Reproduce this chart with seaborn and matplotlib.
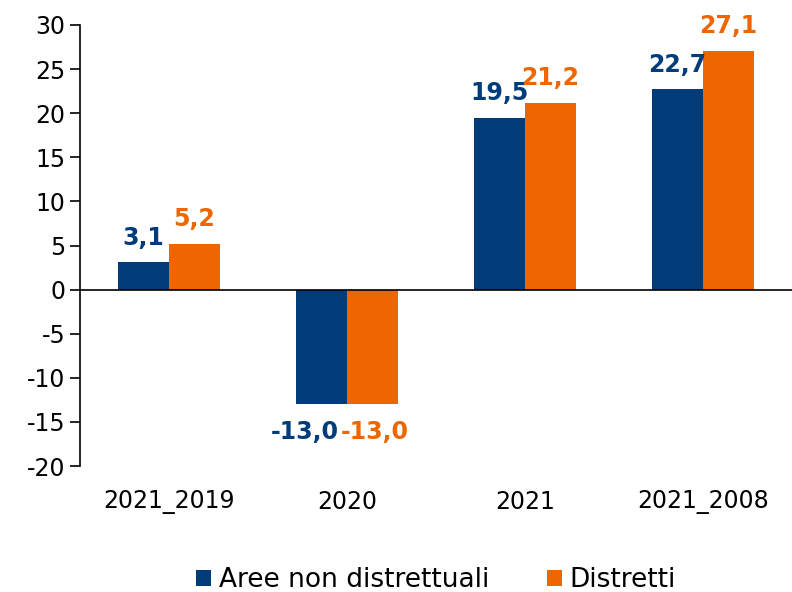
import matplotlib
matplotlib.use("Agg")
import matplotlib.pyplot as plt
import seaborn as sns
import pandas as pd

# chart data
periods = ["2021_2019", "2020", "2021", "2021_2008"]
aree_non_distr = [3.1, -13.0, 19.5, 22.7]
distretti = [5.2, -13.0, 21.2, 27.1]
series_names = ["Aree non distrettuali", "Distretti"]
colors = ["#003b7a", "#ee6600"]

df = pd.DataFrame({
    "periodo": periods * 2,
    "valore": aree_non_distr + distretti,
    "serie": [series_names[0]] * 4 + [series_names[1]] * 4,
})

sns.set_style("white")
plt.rcParams["font.family"] = ["DejaVu Sans"]
plt.rcParams["axes.unicode_minus"] = False
plt.rcParams["text.color"] = "black"

fig = plt.figure(figsize=(7.92, 5.92), dpi=100)
ax = fig.add_axes([80 / 792, 1 - 466 / 592, 712 / 792, 441 / 592])

sns.barplot(data=df, x="periodo", y="valore", hue="serie", palette=colors,
            width=0.57, saturation=1, linewidth=0, ax=ax)

ax.set_ylim(-20, 30)
ax.set_xlim(-0.5, 3.5)
ax.set_yticks(range(-20, 31, 5))
ax.set_xlabel("")
ax.set_ylabel("")

for s in ["top", "right", "bottom"]:
    ax.spines[s].set_visible(False)
ax.spines["left"].set_color("black")
ax.spines["left"].set_linewidth(1.2)
ax.axhline(0, color="black", lw=1.2)

ax.tick_params(axis="y", left=True, length=7, width=1.2, labelsize=17, colors="black")
ax.tick_params(axis="x", bottom=False, labelsize=17, pad=14, colors="black")

# value labels, comma decimal; negative navy label pushed left so the pair doesn't collide
for i, (cont, col) in enumerate(zip(ax.containers, colors)):
    vals = cont.datavalues
    labels = [f"{v:.1f}".replace(".", ",") for v in vals]
    pos = [l if v >= 0 else "" for l, v in zip(labels, vals)]
    neg = [l if v < 0 else "" for l, v in zip(labels, vals)]
    ax.bar_label(cont, labels=pos, padding=9, color=col, fontsize=17, fontweight="bold")
    anns = ax.bar_label(cont, labels=neg, padding=11, color=col, fontsize=17, fontweight="bold")
    shift = -12 if i == 0 else 2
    for a in anns:
        a.xyann = (shift, a.xyann[1])

ax.legend(loc="upper center", bbox_to_anchor=(0.5, -0.175), ncol=2, frameon=False,
          fontsize=19, handlelength=0.55, handleheight=0.55, handletextpad=0.3,
          columnspacing=2.2, labelcolor="black")

fig.savefig("out.png", dpi=100)
